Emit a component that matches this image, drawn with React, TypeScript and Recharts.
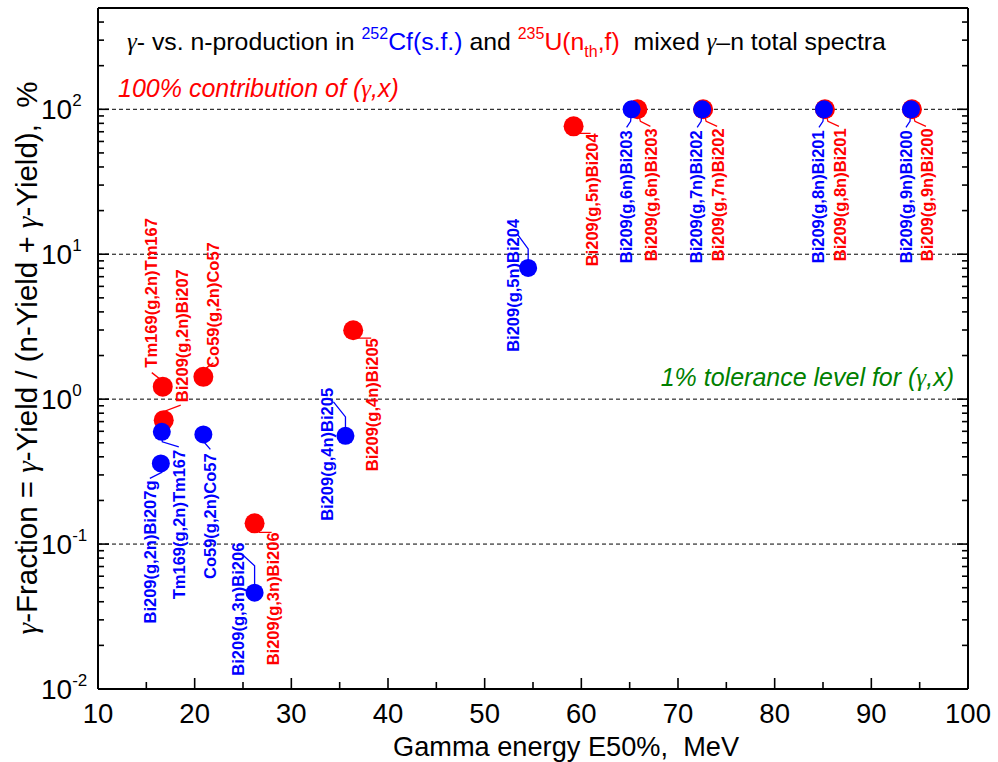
import React from 'react';
import { ScatterChart, Scatter, XAxis, YAxis, ReferenceLine, Customized } from 'recharts';

// Reactions and measured gamma fractions (%) for the 252Cf(s.f.) spectrum
const cfReactions = [
  'Bi209(g,2n)Bi207g',
  'Tm169(g,2n)Tm167',
  'Co59(g,2n)Co57',
  'Bi209(g,3n)Bi206',
  'Bi209(g,4n)Bi205',
  'Bi209(g,5n)Bi204',
  'Bi209(g,6n)Bi203',
  'Bi209(g,7n)Bi202',
  'Bi209(g,8n)Bi201',
  'Bi209(g,9n)Bi200',
];
const cfEnergy = [16.5, 16.6, 20.9, 26.2, 35.6, 54.5, 65.2, 72.5, 85.1, 94.1];
const cfFraction = [0.36, 0.595, 0.571, 0.0462, 0.558, 8.05, 100, 100, 100, 100];

// Reactions and gamma fractions (%) for the 235U(nth,f) spectrum
const uReactions = [
  'Tm169(g,2n)Tm167',
  'Bi209(g,2n)Bi207',
  'Co59(g,2n)Co57',
  'Bi209(g,3n)Bi206',
  'Bi209(g,4n)Bi205',
  'Bi209(g,5n)Bi204',
  'Bi209(g,6n)Bi203',
  'Bi209(g,7n)Bi202',
  'Bi209(g,8n)Bi201',
  'Bi209(g,9n)Bi200',
];
const uEnergy = [16.7, 16.8, 20.9, 26.2, 36.4, 59.2, 65.8, 72.6, 85.2, 94.2];
const uFraction = [1.22, 0.716, 1.425, 0.139, 2.99, 76.3, 100, 100, 100, 100];

// Axis ticks
const xTicks = [10, 15, 20, 25, 30, 35, 40, 45, 50, 55, 60, 65, 70, 75, 80, 85, 90, 95, 100];
const yDecades = [0.01, 0.1, 1, 10, 100];
const yMinorSteps = [2, 3, 4, 5, 6, 7, 8, 9];
const yTicks = yDecades
  .flatMap((d) => [d, ...yMinorSteps.map((m) => m * d)])
  .filter((v) => v <= 500);
const guideLevels = [0.1, 1, 10, 100];

const FONT = "'Liberation Sans', Arial, Helvetica, sans-serif";
const SERIF = "'Liberation Serif', 'Times New Roman', serif";
const BLUE = '#0000ff';
const RED = '#ff0000';
const GREEN = '#008000';

// Label placement for each point: text column offset, text edge offset,
// text direction from that edge, and the leader polyline (offsets from the dot).
type LabelPlace = { dx: number; dy: number; dir: 'up' | 'down'; path: [number, number][] };

const cfLabelPlace: LabelPlace[] = [
  { dx: -11, dy: 17, dir: 'down', path: [[1, 9], [-11, 15]] },
  { dx: 17, dy: 18, dir: 'down', path: [[0.5, 10], [17, 15]] },
  { dx: 7, dy: 19, dir: 'down', path: [[1, 8], [7, 15]] },
  { dx: -17, dy: -50, dir: 'down', path: [[0, -27], [-12, -38]] },
  { dx: -18, dy: -48, dir: 'down', path: [[0, -19], [-12, -34]] },
  { dx: -15, dy: -49, dir: 'down', path: [[0, -19], [-11, -34]] },
  { dx: -6, dy: 21, dir: 'down', path: [[-1, 12], [-5, 18]] },
  { dx: -6, dy: 21, dir: 'down', path: [[-1, 12], [-5, 18]] },
  { dx: -6, dy: 21, dir: 'down', path: [[-1, 12], [-5, 18]] },
  { dx: -5, dy: 21, dir: 'down', path: [[-1, 12], [-5, 18]] },
];

const uLabelPlace: LabelPlace[] = [
  { dx: -12, dy: -19, dir: 'up', path: [[-2, -7], [-11, -14]] },
  { dx: 18.5, dy: -18, dir: 'up', path: [[1, -9], [17, -15]] },
  { dx: 10, dy: -9, dir: 'up', path: [[3, -9], [10, -14]] },
  { dx: 18, dy: 9, dir: 'down', path: [[5, 9], [17, 9]] },
  { dx: 18.5, dy: 8, dir: 'down', path: [[4, 8], [18, 8]] },
  { dx: 18, dy: 7, dir: 'down', path: [[4, 7], [17, 7]] },
  { dx: 14, dy: 19, dir: 'down', path: [[3, 12], [13, 17]] },
  { dx: 15, dy: 19, dir: 'down', path: [[3, 12], [14, 17]] },
  { dx: 15.5, dy: 19, dir: 'down', path: [[3, 12], [14, 17]] },
  { dx: 15.5, dy: 19, dir: 'down', path: [[3, 12], [14, 17]] },
];

const cfPoints = cfEnergy.map((e, k) => ({ energy: e, fraction: cfFraction[k], reaction: cfReactions[k], k }));
const uPoints = uEnergy.map((e, k) => ({ energy: e, fraction: uFraction[k], reaction: uReactions[k], k }));

function makeShape(color: string, r: number, places: LabelPlace[]) {
  return (props: any) => {
    const { cx, cy, payload } = props;
    if (cx == null || cy == null || !payload) return <g />;
    const p = places[payload.k];
    const pts = [[0, 0], ...p.path].map(([a, b]) => `${cx + a},${cy + b}`).join(' ');
    return (
      <g>
        <polyline points={pts} fill="none" stroke={color} strokeWidth={1.3} />
        <circle cx={cx} cy={cy} r={r} fill={color} />
        <text
          transform={`translate(${cx + p.dx},${cy + p.dy}) rotate(-90)`}
          textAnchor={p.dir === 'up' ? 'start' : 'end'}
          dy="0.36em"
          fontFamily={FONT}
          fontWeight="bold"
          fontSize={16.5}
          fill={color}
        >
          {payload.reaction}
        </text>
      </g>
    );
  };
}

const isDecade = (v: number) => Math.abs(Math.log10(v) - Math.round(Math.log10(v))) < 1e-6;

const BottomTick = (props: any) => {
  const { x, y, payload } = props;
  const v = payload.value;
  const major = v % 10 === 0;
  return (
    <g>
      <line x1={x} x2={x} y1={y} y2={y - (major ? 11 : 7)} stroke="#000" strokeWidth={1.6} />
      {major && (
        <text x={x} y={y + 34} textAnchor="middle" fontFamily={FONT} fontSize={27.5} fill="#000">
          {v}
        </text>
      )}
    </g>
  );
};

const TopTick = (props: any) => {
  const { x, y, payload } = props;
  const major = payload.value % 10 === 0;
  return <line x1={x} x2={x} y1={y} y2={y + (major ? 11 : 8)} stroke="#000" strokeWidth={1.6} />;
};

const LeftTick = (props: any) => {
  const { x, y, payload } = props;
  const v = payload.value;
  const major = isDecade(v);
  const exp = Math.round(Math.log10(v));
  return (
    <g>
      <line x1={x} x2={x + (major ? 11 : 6)} y1={y} y2={y} stroke="#000" strokeWidth={1.6} />
      {major && (
        <text x={x - 57} y={y + 10} fontFamily={FONT} fontSize={28} fill="#000">
          <tspan>10</tspan>
          <tspan fontSize={17} dy={-13}>
            {String(exp)}
          </tspan>
        </text>
      )}
    </g>
  );
};

const RightTick = (props: any) => {
  const { x, y, payload } = props;
  const major = isDecade(payload.value);
  return <line x1={x} x2={x - (major ? 11 : 6)} y1={y} y2={y} stroke="#000" strokeWidth={1.6} />;
};

const FullNote = (props: any) => {
  const vb = props.viewBox || {};
  return (
    <text x={vb.x + 20} y={vb.y - 12} fontFamily={FONT} fontStyle="italic" fontSize={25} fill={RED}>
      {'100% contribution of ('}
      <tspan fontFamily={SERIF}>γ</tspan>
      {',x)'}
    </text>
  );
};

const ToleranceNote = (props: any) => {
  const vb = props.viewBox || {};
  return (
    <text x={vb.x + vb.width - 14} y={vb.y - 13} textAnchor="end" fontFamily={FONT} fontStyle="italic" fontSize={25} fill={GREEN}>
      {'1% tolerance level for ('}
      <tspan fontFamily={SERIF}>γ</tspan>
      {',x)'}
    </text>
  );
};

const Titles = () => (
  <g>
    <text x={127} y={50} fontFamily={FONT} fontSize={24.8} fill="#000" style={{ whiteSpace: 'pre' }}>
      <tspan fontFamily={SERIF} fontStyle="italic">γ</tspan>
      <tspan>{'- vs. n-production in '}</tspan>
      <tspan fill={BLUE} fontSize={16} dy={-11}>252</tspan>
      <tspan fill={BLUE} dy={11}>{'Cf(s.f.)'}</tspan>
      <tspan>{' and '}</tspan>
      <tspan fill={RED} fontSize={16} dy={-11}>235</tspan>
      <tspan fill={RED} dy={11}>{'U(n'}</tspan>
      <tspan fill={RED} fontSize={16} dy={7}>th</tspan>
      <tspan fill={RED} dy={-7}>{',f)'}</tspan>
      <tspan>{'  mixed '}</tspan>
      <tspan fontFamily={SERIF} fontStyle="italic">γ</tspan>
      <tspan>{'–n total spectra'}</tspan>
    </text>
    <text x={393} y={756} fontFamily={FONT} fontSize={27.2} fill="#000" style={{ whiteSpace: 'pre' }}>
      {'Gamma energy E50%,  MeV'}
    </text>
    <text
      transform="translate(26,358) rotate(-90)"
      textAnchor="middle"
      dy="0.36em"
      fontFamily={FONT}
      fontSize={29.5}
      fill="#000"
      style={{ whiteSpace: 'pre' }}
    >
      <tspan fontFamily={SERIF} fontStyle="italic">γ</tspan>
      <tspan>{'-Fraction = '}</tspan>
      <tspan fontFamily={SERIF} fontStyle="italic">γ</tspan>
      <tspan>{'-Yield / (n-Yield + '}</tspan>
      <tspan fontFamily={SERIF} fontStyle="italic">γ</tspan>
      <tspan>{'-Yield),  %'}</tspan>
    </text>
  </g>
);

const frame = { stroke: '#000', strokeWidth: 2 };

export default function App() {
  return (
    <div style={{ position: 'absolute', left: 0, top: 0, background: '#fff' }}>
      <ScatterChart width={998} height={762} margin={{ top: 7, right: 29, bottom: 0, left: 0 }}>
        <XAxis
          xAxisId="b"
          dataKey="energy"
          type="number"
          domain={[10, 100]}
          ticks={xTicks}
          interval={0}
          height={73}
          tickSize={0}
          tickMargin={0}
          tickLine={false}
          axisLine={frame}
          tick={<BottomTick />}
          allowDataOverflow
        />
        <XAxis
          xAxisId="t"
          orientation="top"
          type="number"
          domain={[10, 100]}
          ticks={xTicks}
          interval={0}
          height={1}
          tickSize={0}
          tickMargin={0}
          tickLine={false}
          axisLine={frame}
          tick={<TopTick />}
          allowDataOverflow
        />
        <YAxis
          yAxisId="l"
          dataKey="fraction"
          type="number"
          scale="log"
          domain={[0.01, 500]}
          ticks={yTicks}
          interval={0}
          width={98}
          tickSize={0}
          tickMargin={0}
          tickLine={false}
          axisLine={frame}
          tick={<LeftTick />}
          allowDataOverflow
        />
        <YAxis
          yAxisId="r"
          orientation="right"
          type="number"
          scale="log"
          domain={[0.01, 500]}
          ticks={yTicks}
          interval={0}
          width={1}
          tickSize={0}
          tickMargin={0}
          tickLine={false}
          axisLine={frame}
          tick={<RightTick />}
          allowDataOverflow
        />
        {guideLevels.map((lv) => (
          <ReferenceLine
            key={lv}
            xAxisId="b"
            yAxisId="l"
            y={lv}
            stroke="#000"
            strokeWidth={1}
            strokeDasharray="4 3"
            label={lv === 100 ? <FullNote /> : lv === 1 ? <ToleranceNote /> : undefined}
          />
        ))}
        <Scatter
          name="235U(nth,f)"
          xAxisId="b"
          yAxisId="l"
          data={uPoints}
          fill={RED}
          shape={makeShape(RED, 10, uLabelPlace)}
          isAnimationActive={false}
        />
        <Scatter
          name="252Cf(s.f.)"
          xAxisId="b"
          yAxisId="l"
          data={cfPoints}
          fill={BLUE}
          shape={makeShape(BLUE, 9, cfLabelPlace)}
          isAnimationActive={false}
        />
        <Customized component={Titles} />
      </ScatterChart>
    </div>
  );
}
